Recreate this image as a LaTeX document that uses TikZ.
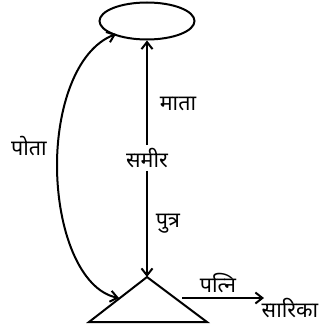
\documentclass[tikz,border=0pt]{standalone}
\usepackage{fontspec}
\newfontfamily\devfont[Script=Devanagari]{Noto Sans}
\usetikzlibrary{arrows.meta,shapes.geometric}
\begin{document}
\begin{tikzpicture}[x=1pt,y=-1pt,
  line width=2pt,
  tip/.style={-{Straight Barb[length=7pt,width=11pt,line width=2pt]}},
  both/.style={{Straight Barb[length=7pt,width=11pt,line width=2pt]}-{Straight Barb[length=7pt,width=11pt,line width=2pt]}},
  lbl/.style={font=\devfont\fontsize{21.5}{23}\selectfont, inner sep=1pt}]
\useasboundingbox (0,0) rectangle (321,324);
\node[draw, ellipse, minimum width=95pt, minimum height=37pt, inner sep=0pt] (ell) at (147,21) {};
\coordinate (apex) at (147,277);
\coordinate (bl) at (89,322);
\coordinate (br) at (207,322);
\draw (bl) -- (apex) -- (br) -- cycle;
\node[lbl, inner sep=2pt] (samir) at (147,158) {समीर};
\draw[tip] (samir) -- (ell.south);
\draw[tip] (samir) -- (apex);
\node[lbl] (mata) at (178,104) {माता};
\node[lbl] (putra) at (168,224) {पुत्र};
\coordinate (pstart) at (182,298);
\coordinate (pend) at (264,298);
\draw[tip] (pstart) -- (pend);
\node[lbl] (patni) at (218,283) {पत्नि};
\node[lbl] (sarika) at (290,308) {सारिका};
\coordinate (ctop) at (116,34);
\coordinate (cbot) at (119,298);
\coordinate (cmid) at (57,165);
\draw[both] (ctop) .. controls (75,50) and (57,110) .. (cmid) .. controls (57,230) and (80,290) .. (cbot);
\node[lbl] (pota) at (29,146) {पोता};
\end{tikzpicture}
\end{document}
